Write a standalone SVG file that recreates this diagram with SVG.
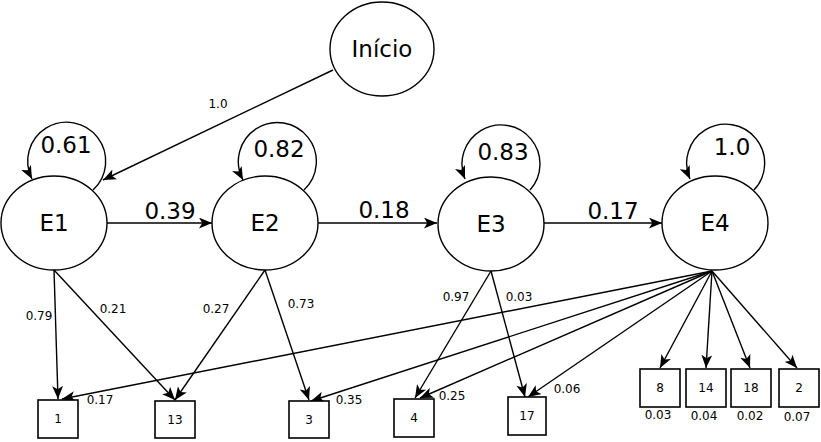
<svg xmlns="http://www.w3.org/2000/svg" width="821" height="442" viewBox="0 0 821 442">
<style>
.n{fill:#fff;stroke:#000;stroke-width:1.4}
.b{fill:#fff;stroke:#000;stroke-width:1.6}
.e{fill:none;stroke:#000;stroke-width:1.4;marker-end:url(#ah)}
.big{font-family:"DejaVu Sans",sans-serif;font-size:23px;text-anchor:middle;fill:#000}
.sm{font-family:"DejaVu Sans",sans-serif;font-size:12px;text-anchor:middle;fill:#000}
</style>
<defs>
<marker id="ah" viewBox="0 0 12 10" refX="12" refY="5" markerWidth="13" markerHeight="11" markerUnits="userSpaceOnUse" orient="auto">
<path d="M0,0 L12,5 L0,10 L3,5 z" fill="#000"/>
</marker>
</defs>
<g id="connectors">
<path class="e" d="M333,70 L103,180"/>
<path class="e" d="M93,190 A39,39 0 1 0 32,179"/>
<path class="e" d="M304,190 A39,39 0 1 0 243,180"/>
<path class="e" d="M530,190 A39,39 0 1 0 465,179"/>
<path class="e" d="M754,190 A39,39 0 1 0 690,179"/>
<path class="e" d="M107,223 L212,223"/>
<path class="e" d="M318,223 L437,223"/>
<path class="e" d="M544,223 L662,223"/>
<path class="e" d="M54,270 L58,399"/>
<path class="e" d="M54,270 L175,400"/>
<path class="e" d="M265,270 L175,400"/>
<path class="e" d="M265,270 L309,400"/>
<path class="e" d="M491,271 L415,398"/>
<path class="e" d="M491,271 L525,397"/>
<path class="e" d="M712,271 L62,399"/>
<path class="e" d="M712,271 L311,401"/>
<path class="e" d="M712,271 L420,398"/>
<path class="e" d="M712,271 L528,397"/>
<path class="e" d="M712,271 L660,368"/>
<path class="e" d="M712,271 L706,368"/>
<path class="e" d="M712,271 L750,368"/>
<path class="e" d="M712,271 L797,368"/>
<text class="sm" x="218" y="108">1.0</text>
<text class="big" x="66" y="153">0.61</text>
<text class="big" x="279" y="157">0.82</text>
<text class="big" x="503" y="160">0.83</text>
<text class="big" x="732" y="155">1.0</text>
<text class="big" x="170" y="219">0.39</text>
<text class="big" x="384" y="218">0.18</text>
<text class="big" x="613" y="219">0.17</text>
<text class="sm" x="39" y="320">0.79</text>
<text class="sm" x="113" y="313">0.21</text>
<text class="sm" x="216" y="313">0.27</text>
<text class="sm" x="301" y="308">0.73</text>
<text class="sm" x="456" y="301">0.97</text>
<text class="sm" x="519" y="301">0.03</text>
<text class="sm" x="100" y="404">0.17</text>
<text class="sm" x="349" y="404">0.35</text>
<text class="sm" x="452" y="400">0.25</text>
<text class="sm" x="567" y="393">0.06</text>
</g>
<g id="Inicio"><ellipse class="n" cx="382" cy="49" rx="52" ry="47"/><text class="big" x="382" y="57">Início</text></g>
<g id="E1"><ellipse class="n" cx="54" cy="223" rx="53" ry="47"/><text class="big" x="54" y="231">E1</text></g>
<g id="E2"><ellipse class="n" cx="265" cy="223" rx="53" ry="47"/><text class="big" x="265" y="231">E2</text></g>
<g id="E3"><ellipse class="n" cx="491" cy="224" rx="53" ry="47"/><text class="big" x="491" y="232">E3</text></g>
<g id="E4"><ellipse class="n" cx="715" cy="223" rx="53" ry="47"/><text class="big" x="715" y="231">E4</text></g>
<g id="b1"><rect class="b" x="38" y="400" width="40" height="38"/><text class="sm" x="58" y="423">1</text></g>
<g id="b13"><rect class="b" x="155" y="401" width="40" height="37"/><text class="sm" x="175" y="424">13</text></g>
<g id="b3"><rect class="b" x="289" y="401" width="40" height="37"/><text class="sm" x="309" y="424">3</text></g>
<g id="b4"><rect class="b" x="394" y="399" width="40" height="38"/><text class="sm" x="414" y="422">4</text></g>
<g id="b17"><rect class="b" x="508" y="397" width="38" height="38"/><text class="sm" x="527" y="420">17</text></g>
<g id="b8"><rect class="b" x="640" y="369" width="40" height="38"/><text class="sm" x="660" y="392">8</text><text class="sm" x="658" y="419">0.03</text></g>
<g id="b14"><rect class="b" x="686" y="369" width="40" height="38"/><text class="sm" x="706" y="392">14</text><text class="sm" x="704" y="420">0.04</text></g>
<g id="b18"><rect class="b" x="731" y="369" width="40" height="38"/><text class="sm" x="751" y="392">18</text><text class="sm" x="750" y="420">0.02</text></g>
<g id="b2"><rect class="b" x="779" y="369" width="40" height="38"/><text class="sm" x="799" y="392">2</text><text class="sm" x="797" y="421">0.07</text></g>
</svg>
